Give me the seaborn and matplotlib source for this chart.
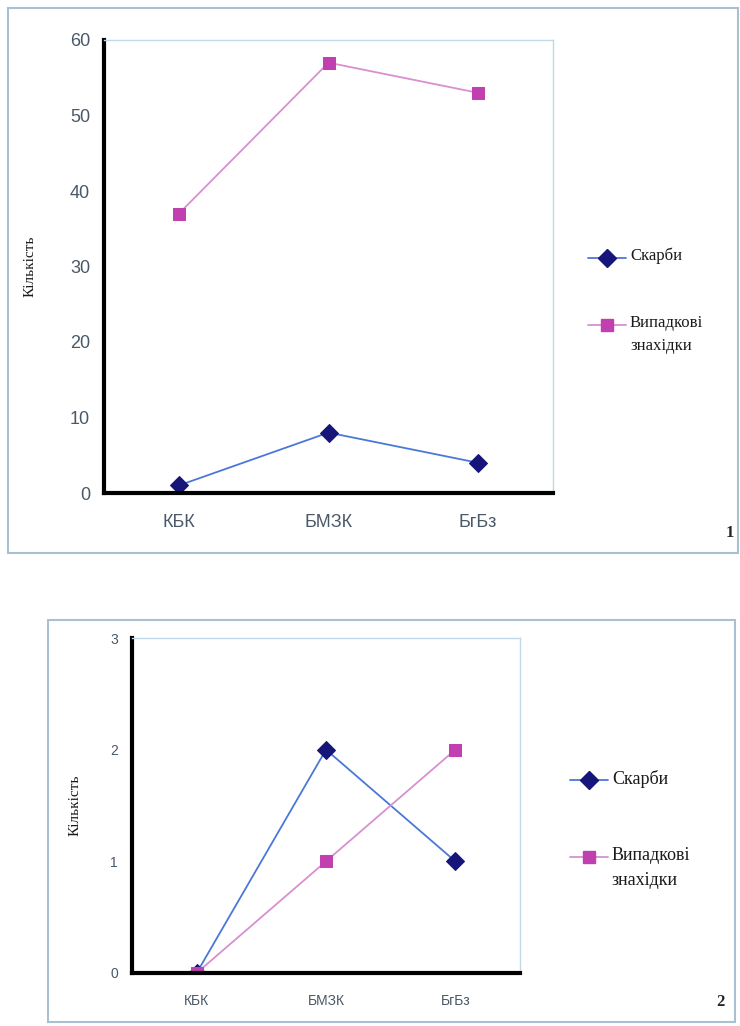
import numpy as np
import matplotlib.pyplot as plt
import seaborn as sns
from matplotlib.patches import Rectangle
from matplotlib.lines import Line2D

categories = ["КБК", "БМЗК", "БгБз"]

# panel 1
hoards_1 = [1, 8, 4]
finds_1 = [37, 57, 53]
# panel 2
hoards_2 = [0, 2, 1]
finds_2 = [0, 1, 2]

label_hoards = "Скарби"
label_finds = "Випадкові\nзнахідки"
ylabel = "Кількість"

sns.set_style("white")
plt.rcParams['font.family'] = ['Liberation Sans', 'DejaVu Sans']

W, H = 740, 1026
fig = plt.figure(figsize=(W / 100, H / 100), dpi=100)


def fx(px):
    return px / W


def fy(py):
    return 1 - py / H


blue_line = "#4a78d8"
blue_mark = "#16167a"
pink_line = "#d890d0"
pink_mark = "#c040b0"
tick_col = "#4a5868"
box_col = "#a8c0d0"


def panel(box, axbox, hoards, finds, ymax, ystep, tick_fs, leg_xy, leg_gap, leg_fs,
          ylab_x, num, num_xy):
    # outer frame
    x0, y0, x1, y1 = box
    fig.patches.append(Rectangle((fx(x0), fy(y1)), fx(x1) - fx(x0), fy(y0) - fy(y1),
                                 transform=fig.transFigure, fill=False,
                                 edgecolor=box_col, linewidth=1.5))
    l, t, r, b = axbox
    ax = fig.add_axes([fx(l), fy(b), fx(r) - fx(l), fy(t) - fy(b)])
    sns.lineplot(x=categories, y=hoards, ax=ax, color=blue_line, linewidth=1.3,
                 marker="D", markersize=9, markerfacecolor=blue_mark,
                 markeredgecolor=blue_mark, sort=False)
    sns.lineplot(x=categories, y=finds, ax=ax, color=pink_line, linewidth=1.3,
                 marker="s", markersize=9, markerfacecolor=pink_mark,
                 markeredgecolor=pink_mark, sort=False)
    ax.set_xlim(-0.5, 2.5)
    ax.set_ylim(0, ymax)
    ax.set_yticks(np.arange(0, ymax + ystep / 2, ystep))
    ax.set_xticks(range(3))
    ax.set_xticklabels(categories)
    ax.set_xticks([-0.5, 0.5, 1.5, 2.5], minor=True)
    ax.tick_params(axis="x", which="major", length=0, pad=15, labelsize=tick_fs, labelcolor=tick_col)
    ax.tick_params(axis="x", which="minor", length=7, width=2.5, direction="out", color="black")
    ax.tick_params(axis="y", length=7, width=2.5, direction="out", color="black",
                   labelsize=tick_fs, labelcolor=tick_col, pad=3)
    for s in ("left", "bottom"):
        ax.spines[s].set_color("black")
        ax.spines[s].set_linewidth(3)
    for s in ("top", "right"):
        ax.spines[s].set_color("#c0d8e8")
        ax.spines[s].set_linewidth(1)
    ax.set_xlabel("")
    ax.set_ylabel("")
    fig.text(fx(ylab_x), fy((t + b) / 2), ylabel, rotation=90, ha="center", va="center",
             family="Liberation Serif", fontsize=11, color="#1a1a1a")
    fig.text(fx(num_xy[0]), fy(num_xy[1]), num, ha="center", va="center",
             family="Liberation Serif", fontsize=12, fontweight="bold")
    # legend
    lx, ly = leg_xy
    entries = [(label_hoards, blue_line, blue_mark, "D"),
               (label_finds, pink_line, pink_mark, "s")]
    for i, (lab, lc, mc, mk) in enumerate(entries):
        yy = ly + i * leg_gap
        fig.add_artist(Line2D([fx(lx), fx(lx + 38)], [fy(yy), fy(yy)],
                              transform=fig.transFigure, color=lc, linewidth=1.3))
        fig.add_artist(Line2D([fx(lx + 19)], [fy(yy)], transform=fig.transFigure,
                              marker=mk, markersize=9, color=mc, linestyle="none"))
        fig.text(fx(lx + 42), fy(yy - 10), lab, ha="left", va="top",
                 family="Liberation Serif", fontsize=leg_fs, color="#1a1a1a", linespacing=1.6)
    return ax


panel((8, 8, 738, 553), (104, 40, 553, 493), hoards_1, finds_1, 60, 10, 13,
      (588, 258), 67, 12, 30, "1", (730, 533))
panel((48, 620, 735, 1022), (132, 638, 520, 973), hoards_2, finds_2, 3, 1, 10,
      (570, 780), 77, 13, 75, "2", (720, 1002))

fig.savefig("out.png", dpi=100)
